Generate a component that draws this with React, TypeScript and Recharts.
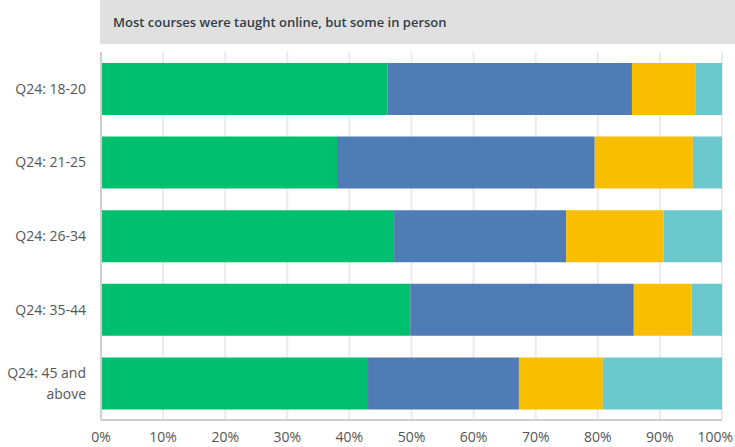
import { Bar, BarChart, CartesianGrid, XAxis, YAxis } from 'recharts';

const categories = ['Q24: 18-20', 'Q24: 21-25', 'Q24: 26-34', 'Q24: 35-44', 'Q24: 45 and above'];
const online = [46.1, 38.0, 47.2, 49.8, 43.0];
const blended = [39.4, 41.5, 27.7, 36.0, 24.3];
const inPerson = [10.3, 15.8, 15.7, 9.3, 13.5];
const other = [4.2, 4.7, 9.4, 4.9, 19.2];
const xTicks = [0, 10, 20, 30, 40, 50, 60, 70, 80, 90, 100];

const series = [
  { key: 'online', values: online, color: '#00bf6f' },
  { key: 'blended', values: blended, color: '#507cb6' },
  { key: 'inPerson', values: inPerson, color: '#f9be00' },
  { key: 'other', values: other, color: '#6bc8cd' },
];

const data = categories.map((name, i) => {
  const row: Record<string, string | number> = { name };
  for (const s of series) row[s.key] = s.values[i];
  return row;
});

const FONT = "'Open Sans', 'DejaVu Sans', sans-serif";

function YTick({ y, payload }: any) {
  const label: string = payload.value;
  const lines = label.length > 12 ? [label.slice(0, 11), label.slice(12)] : [label];
  const lineHeight = 21;
  const start = -((lines.length - 1) * lineHeight) / 2;
  return (
    <text x={86} y={y} textAnchor="end" fill="#555" fontSize={14} fontFamily={FONT}>
      {lines.map((line, i) => (
        <tspan key={i} x={86} y={y + start + i * lineHeight} dy="0.35em">
          {line}
        </tspan>
      ))}
    </text>
  );
}

function XTick({ x, payload }: any) {
  // the last label is pulled in so it stays inside the frame
  const last = payload.value === 100;
  return (
    <text
      x={last ? 733 : x}
      y={442}
      textAnchor={last ? 'end' : 'middle'}
      fill="#555"
      fontSize={14}
      fontFamily={FONT}
    >
      {`${payload.value}%`}
    </text>
  );
}

export default function App() {
  return (
    <div style={{ position: 'relative', width: 735, height: 447, background: '#fff', overflow: 'hidden' }}>
      <style>{'body{margin:0}'}</style>
      <div
        style={{
          position: 'absolute',
          left: 100,
          top: 0,
          width: 635,
          height: 44,
          background: '#e0e0e0',
          display: 'flex',
          alignItems: 'center',
          paddingLeft: 13,
          boxSizing: 'border-box',
          fontFamily: FONT,
          fontWeight: 600,
          fontSize: 13,
          color: '#333e48',
        }}
      >
        Most courses were taught online, but some in person
      </div>
      <BarChart
        width={735}
        height={447}
        data={data}
        layout="vertical"
        margin={{ top: 52, right: 13, bottom: 0, left: 0 }}
        barCategoryGap={11}
      >
        <CartesianGrid vertical horizontal={false} stroke="#ebebeb" strokeWidth={2} />
        <XAxis
          type="number"
          domain={[0, 100]}
          ticks={xTicks}
          allowDataOverflow
          tickLine={false}
          axisLine={{ stroke: '#cfcfcf', strokeWidth: 2 }}
          tick={<XTick />}
          height={27}
        />
        <YAxis
          type="category"
          dataKey="name"
          width={101}
          tickLine={false}
          axisLine={{ stroke: '#cfcfcf', strokeWidth: 2 }}
          tick={<YTick />}
          interval={0}
        />
        {series.map((s) => (
          <Bar key={s.key} dataKey={s.key} stackId="a" fill={s.color} isAnimationActive={false} />
        ))}
      </BarChart>
    </div>
  );
}
